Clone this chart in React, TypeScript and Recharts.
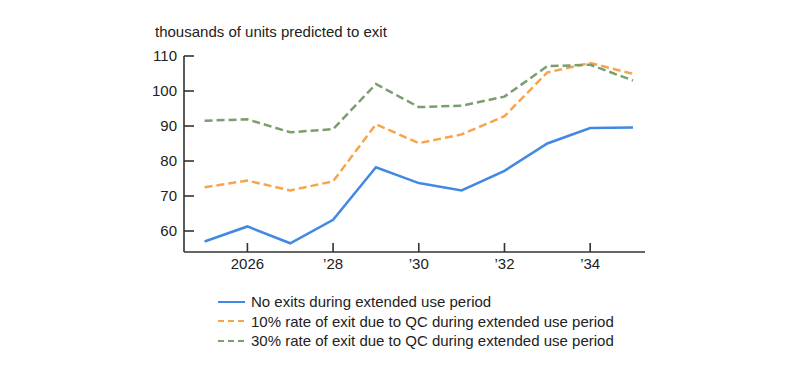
import { Legend, Line, LineChart, XAxis, YAxis } from 'recharts'

const years = [2025, 2026, 2027, 2028, 2029, 2030, 2031, 2032, 2033, 2034, 2035]
const noExits = [57.0, 61.3, 56.5, 63.2, 78.2, 73.7, 71.6, 77.2, 85.0, 89.4, 89.6]
const exit10 = [72.5, 74.4, 71.6, 74.2, 90.5, 85.1, 87.6, 92.8, 105.3, 108.0, 104.9]
const exit30 = [91.5, 91.9, 88.2, 89.1, 102.0, 95.4, 95.8, 98.4, 107.1, 107.5, 103.0]

const xTicks = [2026, 2028, 2030, 2032, 2034]
const xTickLabels = ['2026', '’28', '’30', '’32', '’34']
const yTicks = [60, 70, 80, 90, 100, 110]

const series = [
  { key: 'noExits', label: 'No exits during extended use period', color: '#4189e3', dash: undefined },
  { key: 'exit10', label: '10% rate of exit due to QC during extended use period', color: '#f6a54c', dash: '8 4' },
  { key: 'exit30', label: '30% rate of exit due to QC during extended use period', color: '#7a9e6c', dash: '8 4' },
]

const data = years.map((year, i) => ({
  year,
  noExits: noExits[i],
  exit10: exit10[i],
  exit30: exit30[i],
}))

const font = 'Arial, "Liberation Sans", sans-serif'

function LegendList() {
  return (
    <div style={{ fontFamily: font, fontSize: 15, color: '#222' }}>
      {series.map((s) => (
        <div key={s.key} style={{ display: 'flex', alignItems: 'center', height: 19.5 }}>
          <svg width={34} height={10}>
            <line
              x1={1}
              y1={5}
              x2={28}
              y2={5}
              stroke={s.color}
              strokeWidth={2}
              strokeDasharray={s.dash ? '6 4' : undefined}
            />
          </svg>
          <span>{s.label}</span>
        </div>
      ))}
    </div>
  )
}

export default function App() {
  return (
    <div style={{ position: 'absolute', left: 0, top: 0, width: 800, height: 372, background: '#fff' }}>
      <div
        style={{
          position: 'absolute',
          left: 155,
          top: 23,
          fontFamily: font,
          fontSize: 15,
          color: '#222',
          whiteSpace: 'nowrap',
        }}
      >
        thousands of units predicted to exit
      </div>
      <LineChart width={800} height={372} data={data} margin={{ top: 56, right: 155, bottom: 90, left: 140 }}>
        <XAxis
          dataKey="year"
          type="number"
          domain={[2024.52, 2035.28]}
          ticks={xTicks}
          tickFormatter={(v) => xTickLabels[xTicks.indexOf(v)] ?? String(v)}
          allowDataOverflow
          height={30}
          tickSize={-9}
          tickMargin={15}
          axisLine={{ stroke: '#333', strokeWidth: 1.6 }}
          tickLine={{ stroke: '#333', strokeWidth: 1.6 }}
          tick={{ fill: '#222', fontSize: 15, fontFamily: font }}
        />
        <YAxis
          domain={[54, 110]}
          ticks={yTicks}
          allowDataOverflow
          width={44}
          tickSize={-10}
          tickMargin={17}
          axisLine={{ stroke: '#333', strokeWidth: 1.6 }}
          tickLine={{ stroke: '#333', strokeWidth: 1.6 }}
          tick={{ fill: '#222', fontSize: 15, fontFamily: font }}
        />
        <Legend
          layout="vertical"
          align="center"
          verticalAlign="middle"
          wrapperStyle={{ left: 217, top: 292, width: 'auto' }}
          content={() => <LegendList />}
        />
        {series.map((s) => (
          <Line
            key={s.key}
            type="linear"
            dataKey={s.key}
            name={s.label}
            stroke={s.color}
            strokeWidth={2.5}
            strokeDasharray={s.dash}
            dot={false}
            activeDot={false}
            isAnimationActive={false}
          />
        ))}
      </LineChart>
    </div>
  )
}
